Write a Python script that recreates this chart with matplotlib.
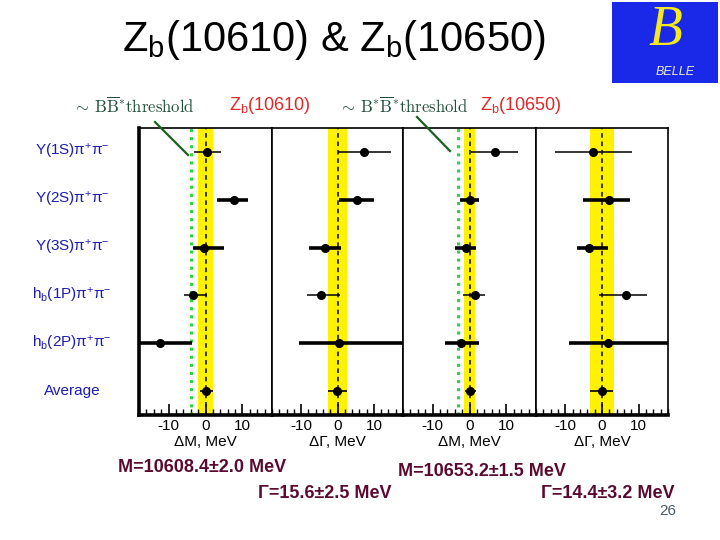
import numpy as np
import matplotlib
matplotlib.use("Agg")
import matplotlib.pyplot as plt

plt.rcParams['font.family'] = ['Liberation Sans', 'DejaVu Sans']
plt.rcParams['mathtext.fontset'] = 'custom'
plt.rcParams['mathtext.rm'] = 'Liberation Sans'
plt.rcParams['mathtext.it'] = 'Liberation Sans:italic'
plt.rcParams['mathtext.bf'] = 'Liberation Sans:bold'
plt.rcParams['axes.unicode_minus'] = False

# channels, top to bottom
rows = ["Υ(1S)π$^{+}$π$^{-}$", "Υ(2S)π$^{+}$π$^{-}$", "Υ(3S)π$^{+}$π$^{-}$",
        "h$_\\mathrm{b}$(1P)π$^{+}$π$^{-}$", "h$_\\mathrm{b}$(2P)π$^{+}$π$^{-}$", "Average"]
thick = [False, True, True, False, True, None]

# deviations from the average (MeV): centre, lower end, upper end
dm_10610 = [0.5, 7.8, -0.3, -3.4, -12.3, 0.1]
dm_10610_lo = [-3.2, 3.2, -3.4, -5.7, -22.0, -1.6]
dm_10610_hi = [4.3, 11.4, 5.0, 0.5, -3.6, 1.9]

dg_10610 = [7.4, 5.4, -3.5, -4.4, 0.4, -0.2]
dg_10610_lo = [0.0, 0.4, -7.8, -8.3, -10.5, -2.6]
dg_10610_hi = [14.8, 9.9, 1.0, 0.8, 22.0, 2.5]

dm_10650 = [7.0, 0.0, -1.0, 1.5, -2.2, 0.1]
dm_10650_lo = [0.5, -2.7, -3.9, -1.7, -6.5, -1.3]
dm_10650_hi = [13.2, 2.7, 1.7, 4.2, 2.5, 1.8]

dg_10650 = [-2.4, 2.0, -3.5, 6.6, 1.6, 0.0]
dg_10650_lo = [-12.9, -5.1, -6.7, -0.7, -9.0, -3.2]
dg_10650_hi = [8.2, 7.5, 1.5, 12.2, 22.0, 3.1]

band = [2.0, 2.5, 1.5, 3.2]          # error of the average
threshold = [-3.8, None, -3.0, None]  # BB* and B*B* thresholds
xlabels = ["ΔM, MeV", "ΔΓ, MeV", "ΔM, MeV", "ΔΓ, MeV"]

panels = [(dm_10610, dm_10610_lo, dm_10610_hi),
          (dg_10610, dg_10610_lo, dg_10610_hi),
          (dm_10650, dm_10650_lo, dm_10650_hi),
          (dg_10650, dg_10650_lo, dg_10650_hi)]

W, H = 720, 540
fig = plt.figure(figsize=(7.2, 5.4), dpi=100)

edges = [139, 272, 403, 536, 668]
top, bot = 128, 415
y = np.arange(len(rows))

for i, (c, lo, hi) in enumerate(panels):
    ax = fig.add_axes([edges[i] / W, 1 - bot / H, (edges[i + 1] - edges[i]) / W, (bot - top) / H])
    ax.set_xlim(-18, 18)
    ax.set_ylim(5.5, -0.5)
    ax.axvspan(-band[i], band[i], color='#fff200', lw=0, zorder=1)
    ax.axvline(0, color='black', ls=(0, (3, 2.5)), lw=1.1, zorder=2)
    if threshold[i] is not None:
        ax.axvline(threshold[i], color='#33d040', ls=':', lw=2.2, zorder=2)
    for k in range(len(rows)):
        lw = 1.1 if thick[k] is False else (2.6 if thick[k] else 1.2)
        ax.plot([lo[k], hi[k]], [y[k], y[k]], color='black', lw=lw, zorder=3,
                solid_capstyle='butt')
        ax.plot(c[k], y[k], 'o', color='black', ms=5.5, zorder=4)
    ax.set_yticks([])
    ax.set_xticks([-10, 0, 10])
    ax.set_xticks(np.arange(-18, 19, 2), minor=True)
    ax.tick_params(axis='x', which='major', direction='in', length=8, width=1.2,
                   labelsize=11, pad=3)
    ax.tick_params(axis='x', which='minor', direction='in', length=4, width=1.0)
    ax.set_xlabel(xlabels[i], fontsize=11, labelpad=1)
    ax.spines['bottom'].set_linewidth(2.6)
    ax.spines['top'].set_linewidth(1.2)
    ax.spines['right'].set_linewidth(1.2)
    ax.spines['left'].set_linewidth(2.6 if i == 0 else 1.2)
    ax.set_facecolor('white')

# channel labels
for k, lab in enumerate(rows):
    yy = top + (bot - top) * (k + 0.5) / len(rows)
    fig.text(72 / W, 1 - yy / H, lab, ha='center', va='center', fontsize=11,
             color='#1c1cb0')

# title
fig.text(334 / W, 1 - 40 / H, "Z$_\\mathrm{b}$(10610) & Z$_\\mathrm{b}$(10650)",
         ha='center', va='center', fontsize=30)

# logo
lax = fig.add_axes([612 / W, 1 - 83 / H, 106 / W, 81 / H])
lax.set_facecolor('#1a28e8')
lax.set_xticks([])
lax.set_yticks([])
for s in lax.spines.values():
    s.set_visible(False)
lax.text(0.5, 0.64, "B", ha='center', va='center', fontsize=40, color='#f4e820',
         family='Liberation Serif', style='italic', transform=lax.transAxes)
lax.text(0.6, 0.14, "BELLE", ha='center', va='center', fontsize=9, color='#f0f0d0',
         style='italic', transform=lax.transAxes)

# threshold / state labels
green = '#1e4e3a'
fig.text(134 / W, 1 - 106 / H, r"$\sim\,\mathrm{B\overline{B}^{*}threshold}$",
         ha='center', va='center', fontsize=12, color=green, math_fontfamily='cm')
fig.text(404 / W, 1 - 106 / H, r"$\sim\,\mathrm{B^{*}\overline{B}^{*}threshold}$",
         ha='center', va='center', fontsize=12, color=green, math_fontfamily='cm')
fig.text(270 / W, 1 - 106 / H, "Z$_\\mathrm{b}$(10610)", ha='center', va='center',
         fontsize=13, color='#e02828')
fig.text(521 / W, 1 - 106 / H, "Z$_\\mathrm{b}$(10650)", ha='center', va='center',
         fontsize=13, color='#e02828')
for (x0, y0, x1, y1) in [(155, 122, 188, 155), (417, 117, 450, 151)]:
    fig.add_artist(plt.Line2D([x0 / W, x1 / W], [1 - y0 / H, 1 - y1 / H],
                              color='#1a6020', lw=1.6))

# results
maroon = '#5a0a30'
fig.text(118 / W, 1 - 468 / H, "M=10608.4±2.0 MeV", ha='left', va='center',
         fontsize=13, weight='bold', color=maroon)
fig.text(258 / W, 1 - 494 / H, "Γ=15.6±2.5 MeV", ha='left', va='center',
         fontsize=13, weight='bold', color=maroon)
fig.text(398 / W, 1 - 471 / H, "M=10653.2±1.5 MeV", ha='left', va='center',
         fontsize=13, weight='bold', color=maroon)
fig.text(541 / W, 1 - 494 / H, "Γ=14.4±3.2 MeV", ha='left', va='center',
         fontsize=13, weight='bold', color=maroon)
fig.text(668 / W, 1 - 511 / H, "26", ha='center', va='center', fontsize=11,
         color='#4a5a6a')

fig.savefig("out.png", dpi=100)
